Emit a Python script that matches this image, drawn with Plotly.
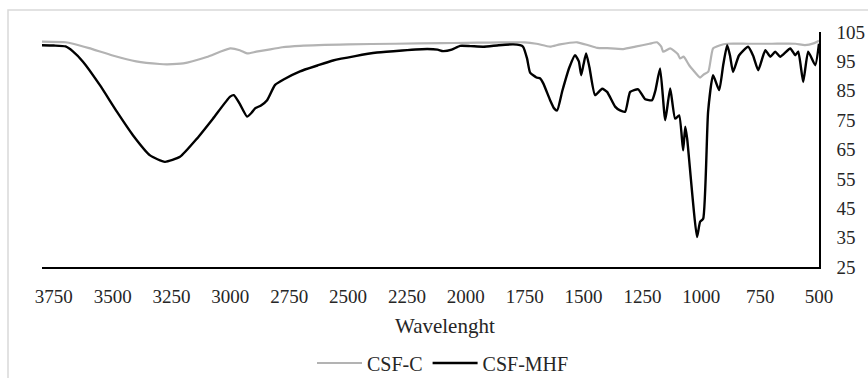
import plotly.graph_objects as go

# FTIR spectra: wavenumber (cm-1) and transmittance (%)
wn_mhf = [3800, 3750, 3700, 3670, 3626, 3554, 3482, 3413, 3341, 3278, 3214, 3142,
          3074, 3001, 2985, 2960, 2929, 2910, 2895, 2870, 2844, 2810, 2770, 2704,
          2630, 2564, 2470, 2377, 2270, 2164, 2120, 2097, 2060, 2024, 1980, 1926,
          1860, 1799, 1770, 1757, 1740, 1727, 1700, 1684, 1671, 1642, 1625, 1612,
          1590, 1560, 1536, 1520, 1510, 1500, 1489, 1475, 1451, 1421, 1400, 1366,
          1345, 1323, 1302, 1268, 1238, 1209, 1195, 1175, 1153, 1132, 1111, 1094,
          1077, 1068, 1060, 1018, 1005, 992, 971, 950, 924, 907, 890, 878, 865,
          840, 801, 780, 758, 728, 707, 686, 665, 622, 601, 588, 567, 546, 516, 500]
t_mhf = [100.5, 100.4, 100.1, 98.5, 94.9, 86.9, 77.9, 69.8, 63.0, 60.8, 62.5, 68.7,
         75.5, 83.0, 83.5, 80.5, 76.2, 77.5, 79.0, 80.0, 81.8, 87.0, 89.0, 91.6,
         93.6, 95.3, 96.8, 98.0, 98.7, 99.2, 99.0, 98.5, 99.0, 100.3, 100.2, 100.0,
         100.5, 100.8, 100.5, 100.0, 96.0, 91.2, 89.5, 89.2, 87.5, 81.8, 79.0, 78.3,
         85.0, 93.0, 97.1, 95.0, 90.3, 94.0, 97.7, 93.0, 83.5, 85.7, 84.6, 79.6,
         78.3, 77.9, 84.6, 85.5, 82.1, 81.8, 85.0, 92.6, 75.0, 85.8, 75.5, 76.6,
         64.7, 72.8, 68.7, 35.2, 40.4, 41.4, 77.9, 90.3, 85.2, 93.7, 100.5, 97.0, 91.4,
         97.0, 100.0, 97.0, 92.0, 98.8, 96.6, 98.3, 96.6, 99.4, 97.1, 98.3, 88.0, 98.3, 93.7, 101.0]

wn_c = [3800, 3700, 3668, 3600, 3500, 3400, 3300, 3269, 3200, 3100, 3001, 2960,
        2929, 2890, 2850, 2780, 2704, 2500, 2300, 2100, 2000, 1900, 1800, 1750,
        1700, 1642, 1600, 1527, 1480, 1442, 1400, 1332, 1280, 1220, 1188, 1170,
        1162, 1132, 1100, 1090, 1075, 1050, 1034, 1005, 990, 970, 950, 920, 890,
        800, 700, 600, 560, 520, 500]
t_c = [101.7, 101.5, 101.0, 99.5, 97.0, 95.0, 94.1, 94.0, 94.3, 96.5, 99.4, 98.8,
       97.7, 98.3, 98.8, 99.8, 100.3, 100.8, 101.0, 101.2, 101.3, 101.4, 101.5, 101.5,
       101.0, 100.0, 100.8, 101.5, 100.5, 99.6, 99.5, 99.2, 100.0, 101.0, 101.5, 100.0,
       98.3, 99.4, 97.5, 96.0, 96.6, 93.5, 92.0, 89.5, 90.5, 91.5, 99.4, 100.5, 101.0,
       101.0, 101.0, 101.0, 100.5, 101.2, 102.0]

x_ticks = [3750, 3500, 3250, 3000, 2750, 2500, 2250, 2000, 1750, 1500, 1250, 1000, 750, 500]
y_ticks = [25, 35, 45, 55, 65, 75, 85, 95, 105]

W, H = 868, 378
ML, MR, MT, MB = 42, 49, 32, 111
PW, PH = W - ML - MR, H - MT - MB

FONT = "Liberation Serif"
TXT = "#262626"

fig = go.Figure()
fig.add_trace(go.Scatter(x=wn_c, y=t_c, mode="lines", name="CSF-C",
                         line=dict(color="#b3b3b3", width=2.2, shape="spline", smoothing=0.5)))
fig.add_trace(go.Scatter(x=wn_mhf, y=t_mhf, mode="lines", name="CSF-MHF",
                         line=dict(color="#000000", width=2.4, shape="spline", smoothing=0.5)))


def px_x(p):
    return (p - ML) / PW


def px_y(p):
    return (H - MB - p) / PH


fig.update_layout(
    width=W, height=H,
    margin=dict(l=ML, r=MR, t=MT, b=MB, autoexpand=False),
    paper_bgcolor="white", plot_bgcolor="white",
    font=dict(family=FONT, size=19, color=TXT),
    showlegend=True,
    legend=dict(orientation="h", x=px_x(443), xanchor="center",
                y=px_y(363), yanchor="middle",
                font=dict(family=FONT, size=20, color=TXT),
                itemwidth=45, tracegroupgap=0, bgcolor="rgba(0,0,0,0)"),
    xaxis=dict(range=[3800, 500], tickvals=x_ticks, ticktext=[str(v) for v in x_ticks],
               showgrid=False, zeroline=False, showline=True, linecolor="#000000",
               linewidth=2, ticks="", ticklabelstandoff=11,
               tickfont=dict(family=FONT, size=19, color=TXT)),
    yaxis=dict(range=[25, 105], tickvals=y_ticks, side="right",
               showgrid=False, zeroline=False, showline=True, linecolor="#000000",
               linewidth=1.5, ticks="", ticklabelstandoff=12,
               tickfont=dict(family=FONT, size=19, color=TXT)),
    annotations=[dict(text="Wavelenght", xref="paper", yref="paper",
                      x=px_x(445), y=px_y(326), xanchor="center", yanchor="middle",
                      showarrow=False, font=dict(family=FONT, size=21, color=TXT))],
    shapes=[dict(type="rect", xref="paper", yref="paper",
                 x0=px_x(8), x1=px_x(W + 20), y0=px_y(H + 20), y1=px_y(10),
                 line=dict(color="#d9d9d9", width=1.5), fillcolor="rgba(0,0,0,0)",
                 layer="below")],
)

fig.write_html("out.html")
